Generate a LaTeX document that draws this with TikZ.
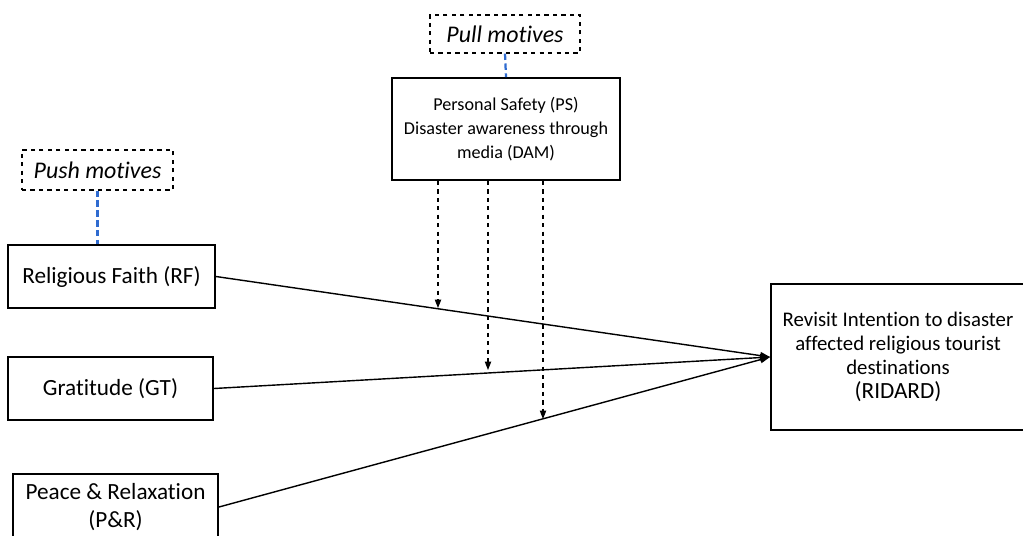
\documentclass[tikz,border=0pt]{standalone}
\usepackage{fontspec}
\setmainfont{Carlito}[Ligatures=NoCommon]
\definecolor{linkblue}{HTML}{2F6BD0}
\usetikzlibrary{arrows.meta}

\tikzset{
  factor/.style={draw, line width=1.3pt, align=center, inner sep=2pt, font=\fontsize{16.5}{20}\selectfont},
  motive/.style={draw, dashed, line width=0.9pt, align=center, font=\fontsize{17}{20}\selectfont\itshape},
  effect/.style={line width=1pt, -{Triangle[length=7pt, width=5pt]}},
  moderate/.style={dashed, line width=0.8pt, -{Triangle[length=6pt, width=4.5pt]}},
  link/.style={linkblue, dash pattern=on 4.5pt off 2.5pt, line width=1.6pt}
}

\begin{document}
\begin{tikzpicture}[x=0.025cm, y=-0.025cm]
\clip (0,0) rectangle (1023,535);

% Motive headers
\node[motive, minimum width=3.75cm, minimum height=0.95cm] (pull) at (505,34) {Pull motives};
\node[motive, minimum width=3.775cm, minimum height=1cm] (push) at (97.5,170) {Push motives};

% Pull factors
\node[factor, minimum width=5.7cm, minimum height=2.55cm, font=\fontsize{12.9}{16.8}\selectfont] (ps) at (506,129)
  {Personal Safety (PS)\\Disaster awareness through\\media (DAM)};

% Push factors
\node[factor, minimum width=5.175cm, minimum height=1.575cm] (rf) at (111.5,276.5) {Religious Faith (RF)};
\node[factor, minimum width=5.125cm, minimum height=1.575cm] (gt) at (110.5,388.5) {Gratitude (GT)};
\node[factor, minimum width=5.125cm, minimum height=1.65cm, font=\fontsize{16.5}{20.5}\selectfont] (pr) at (115.5,507) {Peace \& Relaxation\\(P\&R)};

% Outcome
\node[factor, minimum width=6.35cm, minimum height=3.65cm, font=\fontsize{14.8}{17}\selectfont] (ridard) at (898,357)
  {Revisit Intention to disaster\\affected religious tourist\\destinations\\{\fontsize{16.5}{17}\selectfont (RIDARD)}};

% Links to motive headers
\draw[link] (pull.south) -- (ps.north);
\draw[link] (push.south) -- (push.south |- rf.north);

% Direct effects
\draw[effect] (rf.east) -- (ridard.west);
\draw[effect] (gt.east) -- (ridard.west);
\draw[effect] (pr.east) -- (ridard.west);

% Moderating effects
\coordinate (m1) at (438,308);
\coordinate (m2) at (488,370);
\coordinate (m3) at (543,419);
\draw[moderate] (ps.south -| m1) -- (m1);
\draw[moderate] (ps.south -| m2) -- (m2);
\draw[moderate] (ps.south -| m3) -- (m3);
\end{tikzpicture}
\end{document}
